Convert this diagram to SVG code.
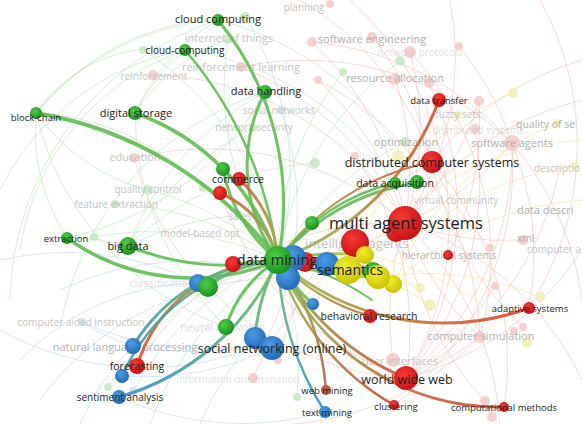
<svg xmlns="http://www.w3.org/2000/svg" width="582" height="424" viewBox="0 0 582 424">
<defs>
<radialGradient id="gG" cx="0.4" cy="0.35" r="0.7"><stop offset="0" stop-color="#4fcb47"/><stop offset="1" stop-color="#14901a"/></radialGradient>
<radialGradient id="gR" cx="0.4" cy="0.35" r="0.7"><stop offset="0" stop-color="#f53b35"/><stop offset="1" stop-color="#c80f12"/></radialGradient>
<radialGradient id="gB" cx="0.4" cy="0.35" r="0.7"><stop offset="0" stop-color="#4b9ce6"/><stop offset="1" stop-color="#1f68b8"/></radialGradient>
<radialGradient id="gY" cx="0.4" cy="0.35" r="0.7"><stop offset="0" stop-color="#f2ee2a"/><stop offset="1" stop-color="#c8c000"/></radialGradient>
<linearGradient id="eR1" gradientUnits="userSpaceOnUse" x1="278" y1="260" x2="439" y2="100"><stop offset="0" stop-color="#8fbf55"/><stop offset="1" stop-color="#e0482c"/></linearGradient>
<linearGradient id="eR2" gradientUnits="userSpaceOnUse" x1="278" y1="260" x2="432" y2="162"><stop offset="0" stop-color="#8fbf55"/><stop offset="1" stop-color="#d8503a"/></linearGradient>
<linearGradient id="eR3" gradientUnits="userSpaceOnUse" x1="278" y1="260" x2="230" y2="185"><stop offset="0" stop-color="#8fbf55"/><stop offset="1" stop-color="#d85a3a"/></linearGradient>
<linearGradient id="eR5" gradientUnits="userSpaceOnUse" x1="278" y1="260" x2="137" y2="366"><stop offset="0" stop-color="#8fbf55"/><stop offset="1" stop-color="#e04a2a"/></linearGradient>
<linearGradient id="eR6" gradientUnits="userSpaceOnUse" x1="278" y1="260" x2="406" y2="378"><stop offset="0" stop-color="#8fbf55"/><stop offset="1" stop-color="#d84a30"/></linearGradient>
<linearGradient id="eR8" gradientUnits="userSpaceOnUse" x1="278" y1="260" x2="504" y2="407"><stop offset="0" stop-color="#8fbf55"/><stop offset="1" stop-color="#e0402a"/></linearGradient>
<linearGradient id="eR9" gradientUnits="userSpaceOnUse" x1="278" y1="260" x2="326" y2="390"><stop offset="0" stop-color="#8fbf55"/><stop offset="1" stop-color="#b0604a"/></linearGradient>
<linearGradient id="eR11" gradientUnits="userSpaceOnUse" x1="278" y1="260" x2="529" y2="308"><stop offset="0" stop-color="#9cbf45"/><stop offset="1" stop-color="#e0402a"/></linearGradient>
<linearGradient id="eB" gradientUnits="userSpaceOnUse" x1="278" y1="260" x2="120" y2="390"><stop offset="0" stop-color="#6cc060"/><stop offset="1" stop-color="#3a8fc8"/></linearGradient>
<linearGradient id="eB2" gradientUnits="userSpaceOnUse" x1="278" y1="260" x2="325" y2="412"><stop offset="0" stop-color="#6cc060"/><stop offset="1" stop-color="#3a8fd0"/></linearGradient>
<linearGradient id="eY" gradientUnits="userSpaceOnUse" x1="278" y1="260" x2="393" y2="284"><stop offset="0" stop-color="#70c050"/><stop offset="1" stop-color="#c8d020"/></linearGradient>
</defs>
<style>
.bp{fill:none;stroke:#f2a8a8;stroke-opacity:.45;stroke-width:1}
.bg{fill:none;stroke:#9ed49a;stroke-opacity:.4;stroke-width:1}
.bb{fill:none;stroke:#a8c8ec;stroke-opacity:.45;stroke-width:1}
.by{fill:none;stroke:#e6e48a;stroke-opacity:.5;stroke-width:1}
.se{fill:none;stroke-linecap:round;stroke-opacity:.9}
.sg{stroke:#5fbd52}
.fp{fill:#f5c4c4;opacity:.8}
.fg{fill:#c6e6c2;opacity:.85}
.fb{fill:#cddff3;opacity:.85}
.fy{fill:#efeeb0;opacity:.85}
.ng{fill:url(#gG)}.nr{fill:url(#gR)}.nb{fill:url(#gB)}.ny{fill:url(#gY)}
text{font-family:"Open Sans","Noto Sans","Liberation Sans",sans-serif;text-anchor:middle}
.fl{fill:#c4c4c4}
.fl2{fill:#b0b0b0}
.lb{fill:#1c1c1c}
</style>

<g id="background-edges">
<path class="bp" d="M312,42 A300,300 0 0,1 405,223"/>
<path class="bp" d="M372,37 A300,300 0 0,1 432,162"/>
<path class="bp" d="M410,52 A300,300 0 0,1 405,223"/>
<path class="bp" d="M459,46 A300,300 0 0,1 512,143"/>
<path class="bp" d="M395,78 A300,300 0 0,1 405,223"/>
<path class="bp" d="M429,83 A300,300 0 0,1 406,378"/>
<path class="bp" d="M318,80 A300,300 0 0,1 405,223"/>
<path class="bp" d="M479,101 A300,300 0 0,1 405,223"/>
<path class="bp" d="M475,129 A300,300 0 0,1 406,378"/>
<path class="bp" d="M512,143 A300,300 0 0,1 405,223"/>
<path class="bp" d="M512,143 A300,300 0 0,1 406,378"/>
<path class="bp" d="M153,75 A300,300 0 0,1 405,223"/>
<path class="bp" d="M241,67 A300,300 0 0,1 405,223"/>
<path class="bp" d="M134,158 A300,300 0 0,1 405,223"/>
<path class="bp" d="M134,158 A300,300 0 0,0 406,378"/>
<path class="bp" d="M480,337 A300,300 0 0,1 405,223"/>
<path class="bp" d="M480,337 A300,300 0 0,1 406,378"/>
<path class="bp" d="M393,360 A300,300 0 0,1 405,223"/>
<path class="bp" d="M523,240 A300,300 0 0,1 405,223"/>
<path class="bp" d="M490,248 A300,300 0 0,1 432,162"/>
<path class="bp" d="M485,401 A300,300 0 0,1 405,223"/>
<path class="bp" d="M253,378 A300,300 0 0,1 405,223"/>
<path class="bp" d="M278,360 A300,300 0 0,1 432,162"/>
<path class="bp" d="M495,286 A300,300 0 0,1 406,378"/>
<path class="bp" d="M523,327 A300,300 0 0,1 432,162"/>
<path class="bp" d="M355,156 A300,300 0 0,1 406,378"/>
<path class="bp" d="M312,42 A300,300 0 0,1 512,143"/>
<path class="bp" d="M410,52 A300,300 0 0,1 480,337"/>
<path class="bp" d="M318,80 A300,300 0 0,1 480,337"/>
<path class="bp" d="M241,67 A300,300 0 0,1 512,143"/>
<path class="bp" d="M560,166 A300,300 0 0,1 406,378"/>
<path class="bp" d="M582,100 A300,300 0 0,0 405,223"/>
<path class="bp" d="M582,60 A300,300 0 0,0 432,162"/>
<path class="bp" d="M450,0 A300,300 0 0,1 405,223"/>
<path class="bp" d="M350,0 A300,300 0 0,1 406,378"/>
<path class="bp" d="M582,250 A300,300 0 0,1 406,378"/>
<path class="bp" d="M582,380 A300,300 0 0,0 405,223"/>
<path class="bp" d="M500,424 A300,300 0 0,0 405,223"/>
<path class="bp" d="M504,407 A300,300 0 0,0 432,162"/>
<path class="bp" d="M529,308 A300,300 0 0,0 512,143"/>
<path class="bp" d="M394,405 A300,300 0 0,0 512,143"/>
<path class="bp" d="M448,255 A300,300 0 0,0 479,101"/>
<path class="bp" d="M406,378 A300,300 0 0,1 220,193"/>
<path class="bp" d="M137,366 A300,300 0 0,1 405,223"/>
<path class="bp" d="M300,0 A300,300 0 0,1 432,162"/>
<path class="bp" d="M240,424 A300,300 0 0,0 480,337"/>
<path class="bp" d="M582,300 A300,300 0 0,0 512,143"/>
<path class="bp" d="M540,0 A300,300 0 0,1 529,308"/>
<path class="bg" d="M36,113 A150,150 0 0,1 185,50"/>
<path class="bg" d="M36,113 A200,200 0 0,0 67,238"/>
<path class="bg" d="M36,113 A260,260 0 0,1 245,17"/>
<path class="bg" d="M36,113 A200,200 0 0,0 148,190"/>
<path class="bg" d="M67,238 A200,200 0 0,1 128,246"/>
<path class="bg" d="M143,50 A300,300 0 0,1 278,260"/>
<path class="bg" d="M245,17 A300,300 0 0,1 278,260"/>
<path class="bg" d="M228,39 A300,300 0 0,0 278,260"/>
<path class="bg" d="M228,39 A200,200 0 0,0 135,113"/>
<path class="bg" d="M343,72 A300,300 0 0,0 278,260"/>
<path class="bg" d="M400,61 A300,300 0 0,0 278,260"/>
<path class="bg" d="M405,142 A300,300 0 0,0 278,260"/>
<path class="bg" d="M315,163 A300,300 0 0,0 128,246"/>
<path class="bg" d="M203,188 A250,250 0 0,0 36,113"/>
<path class="bg" d="M148,190 A300,300 0 0,1 278,260"/>
<path class="bg" d="M115,204 A300,300 0 0,1 278,260"/>
<path class="bg" d="M94,237 A300,300 0 0,1 278,260"/>
<path class="bg" d="M239,215 A300,300 0 0,0 128,246"/>
<path class="bg" d="M253,128 A300,300 0 0,0 128,246"/>
<path class="bg" d="M0,190 A260,260 0 0,1 185,50"/>
<path class="bg" d="M10,300 A300,300 0 0,1 218,20"/>
<path class="bg" d="M108,387 A300,300 0 0,1 278,260"/>
<path class="bg" d="M297,397 A300,300 0 0,0 278,260"/>
<path class="bg" d="M185,50 A200,200 0 0,0 135,113"/>
<path class="bg" d="M218,20 A200,200 0 0,0 135,113"/>
<path class="bg" d="M218,20 A260,260 0 0,0 36,113"/>
<path class="bg" d="M36,113 A300,300 0 0,0 226,327"/>
<path class="bg" d="M67,238 A300,300 0 0,0 265,92"/>
<path class="bg" d="M128,246 A300,300 0 0,1 265,92"/>
<path class="bg" d="M135,113 A300,300 0 0,0 226,327"/>
<path class="bg" d="M20,250 A250,250 0 0,1 185,50"/>
<path class="bg" d="M60,330 A300,300 0 0,1 265,92"/>
<path class="bg" d="M218,20 A300,300 0 0,1 417,183"/>
<path class="bg" d="M185,50 A300,300 0 0,1 395,183"/>
<path class="bb" d="M82,322 A300,300 0 0,0 265,343"/>
<path class="bb" d="M82,322 A200,200 0 0,0 133,346"/>
<path class="bb" d="M133,391 A300,300 0 0,1 278,260"/>
<path class="bb" d="M281,110 A300,300 0 0,1 265,343"/>
<path class="bb" d="M0,330 A300,300 0 0,0 265,343"/>
<path class="bb" d="M40,400 A300,300 0 0,1 288,278"/>
<path class="bb" d="M133,346 A300,300 0 0,0 265,343"/>
<path class="bb" d="M119,397 A300,300 0 0,0 325,412"/>
<path class="bb" d="M122,376 A300,300 0 0,0 272,348"/>
<path class="bb" d="M200,424 A300,300 0 0,1 255,338"/>
<path class="bb" d="M60,290 A300,300 0 0,1 288,278"/>
<path class="bb" d="M0,260 A300,300 0 0,1 198,283"/>
<path class="bb" d="M20,360 A250,250 0 0,1 198,283"/>
<path class="bb" d="M80,424 A250,250 0 0,1 133,346"/>
<path class="bb" d="M150,424 A300,300 0 0,1 293,258"/>
<path class="by" d="M513,93 A300,300 0 0,0 348,270"/>
<path class="by" d="M458,115 A300,300 0 0,0 348,270"/>
<path class="by" d="M557,123 A300,300 0 0,0 393,284"/>
<path class="by" d="M540,297 A300,300 0 0,0 378,277"/>
<path class="by" d="M420,288 A200,200 0 0,0 348,270"/>
<path class="by" d="M430,305 A200,200 0 0,0 348,270"/>
<path class="by" d="M527,343 A300,300 0 0,0 365,255"/>
<path class="by" d="M400,155 A300,300 0 0,0 348,270"/>
<path class="by" d="M582,200 A300,300 0 0,0 393,284"/>
<path class="by" d="M575,166 A300,300 0 0,0 378,277"/>
<path class="by" d="M582,140 A300,300 0 0,0 365,255"/>
</g>

<g id="faint-nodes">
<circle class="fg" cx="245" cy="17" r="5"/>
<circle class="fg" cx="228" cy="39" r="5"/>
<circle class="fg" cx="143" cy="50" r="4"/>
<circle class="fp" cx="153" cy="75" r="5"/>
<circle class="fp" cx="241" cy="67" r="5"/>
<circle class="fb" cx="281" cy="110" r="4"/>
<circle class="fg" cx="253" cy="128" r="4"/>
<circle class="fp" cx="312" cy="42" r="5"/>
<circle class="fp" cx="372" cy="37" r="5"/>
<circle class="fp" cx="410" cy="52" r="6"/>
<circle class="fp" cx="459" cy="46" r="4"/>
<circle class="fg" cx="343" cy="72" r="4"/>
<circle class="fg" cx="400" cy="61" r="5"/>
<circle class="fp" cx="318" cy="80" r="4"/>
<circle class="fp" cx="395" cy="79" r="6"/>
<circle class="fp" cx="429" cy="83" r="5"/>
<circle class="fp" cx="479" cy="101" r="5"/>
<circle class="fy" cx="513" cy="93" r="5"/>
<circle class="fy" cx="458" cy="115" r="4"/>
<circle class="fp" cx="475" cy="129" r="5"/>
<circle class="fy" cx="557" cy="123" r="4"/>
<circle class="fp" cx="512" cy="143" r="8"/>
<circle class="fg" cx="405" cy="142" r="5"/>
<circle class="fy" cx="398" cy="156" r="6"/>
<circle class="fy" cx="575" cy="166" r="4"/>
<circle class="fp" cx="523" cy="240" r="5"/>
<circle class="fp" cx="490" cy="248" r="4"/>
<circle class="fp" cx="134" cy="158" r="5"/>
<circle class="fg" cx="148" cy="190" r="5"/>
<circle class="fg" cx="115" cy="204" r="4"/>
<circle class="fg" cx="94" cy="237" r="4"/>
<circle class="fg" cx="203" cy="188" r="4"/>
<circle class="fg" cx="239" cy="215" r="4"/>
<circle class="fg" cx="315" cy="163" r="5"/>
<circle class="fp" cx="355" cy="156" r="4"/>
<circle class="fb" cx="82" cy="322" r="4"/>
<circle class="fg" cx="108" cy="387" r="4"/>
<circle class="fb" cx="133" cy="391" r="4"/>
<circle class="fp" cx="278" cy="360" r="4"/>
<circle class="fp" cx="253" cy="378" r="5"/>
<circle class="fg" cx="297" cy="397" r="4"/>
<circle class="fy" cx="420" cy="288" r="5"/>
<circle class="fy" cx="430" cy="305" r="6"/>
<circle class="fp" cx="495" cy="286" r="4"/>
<circle class="fy" cx="540" cy="297" r="5"/>
<circle class="fp" cx="523" cy="327" r="4"/>
<circle class="fp" cx="514" cy="331" r="4"/>
<circle class="fy" cx="527" cy="343" r="5"/>
<circle class="fp" cx="480" cy="337" r="6"/>
<circle class="fp" cx="393" cy="360" r="7"/>
<circle class="fp" cx="485" cy="401" r="5"/>
<circle class="fp" cx="492" cy="417" r="5"/>
<circle class="fp" cx="330" cy="4" r="4"/>
</g>

<g id="faint-labels">
<text class="fl" x="304" y="11" font-size="10">planning</text>
<text class="fl" x="229" y="42" font-size="11">internet of things</text>
<text class="fl2" x="372" y="43" font-size="11">software engineering</text>
<text class="fl" x="420" y="56" font-size="10" fill-opacity=".5">network protocols</text>
<text class="fl" x="154" y="80" font-size="10">reinforcement</text>
<text class="fl" x="241" y="71" font-size="11">reinforcement learning</text>
<text class="fl2" x="395" y="82" font-size="11">resource allocation</text>
<text class="fl" x="279" y="114" font-size="10">social networks</text>
<text class="fl" x="254" y="131" font-size="10">network security</text>
<text class="fl" x="458" y="118" font-size="10">fuzzy sets</text>
<text class="fl" x="478" y="134" font-size="10" fill-opacity=".6">distributed systems</text>
<text class="fl2" x="516" y="128" font-size="10.5" style="text-anchor:start">quality of se</text>
<text class="fl2" x="406" y="146" font-size="11">optimization</text>
<text class="fl2" x="512" y="147" font-size="11">software agents</text>
<text class="fl" x="135" y="161" font-size="11">education</text>
<text class="fl" x="534" y="172" font-size="10" style="text-anchor:start">descriptio</text>
<text class="fl" x="148" y="193" font-size="10">quality control</text>
<text class="fl" x="116" y="208" font-size="10">feature extraction</text>
<text class="fl" x="456" y="204" font-size="10">virtual community</text>
<text class="fl2" x="517" y="214" font-size="11" style="text-anchor:start">data descri</text>
<text class="fl" x="240" y="220" font-size="10">sales</text>
<text class="fl" x="200" y="237" font-size="10">model-based opt</text>
<text class="fl2" x="517" y="242" font-size="10" style="text-anchor:start">xml</text>
<text class="fl" x="527" y="253" font-size="10" style="text-anchor:start">computer a</text>
<text class="fl" x="357" y="248" font-size="13">intelligent agents</text>
<text class="fl2" x="449" y="259" font-size="10">hierarchical systems</text>
<text class="fl" x="162" y="287" font-size="11" fill-opacity=".6">classification</text>
<text class="fl" x="81" y="326" font-size="10">computer aided instruction</text>
<text class="fl" x="222" y="331" font-size="11" fill-opacity=".6">neural networks</text>
<text class="fl2" x="481" y="340" font-size="11">computer simulation</text>
<text class="fl2" x="125" y="351" font-size="11">natural language processing</text>
<text class="fl" x="400" y="365" font-size="11">user interfaces</text>
<text class="fl" x="238" y="383" font-size="10" fill-opacity=".5">information dissemination</text>
</g>

<g id="connectors">
<path class="se sg" stroke-width="3" d="M218,20 A290,290 0 0,1 278,260"/>
<path class="se sg" stroke-width="3" d="M265,92 A160,160 0 0,0 278,260"/>
<path class="se sg" stroke-width="2.5" d="M185,50 A400,400 0 0,1 278,260"/>
<path class="se sg" stroke-width="4" d="M36,113 A380,380 0 0,1 278,260"/>
<path class="se sg" stroke-width="3.5" d="M135,113 A230,230 0 0,1 278,260"/>
<path class="se sg" stroke-width="3.5" d="M67,238 A215,215 0 0,0 278,260"/>
<path class="se sg" stroke-width="3" d="M128,246 A260,260 0 0,0 278,260"/>
<path class="se sg" stroke-width="3" d="M223,169 A150,150 0 0,0 278,260"/>
<path class="se sg" stroke-width="3" d="M417,183 A220,220 0 0,0 278,260"/>
<path class="se sg" stroke-width="2.5" d="M395,183 A200,200 0 0,0 278,260"/>
<path class="se sg" stroke-width="3" d="M312,223 L278,260"/>
<path class="se sg" stroke-width="3" d="M226,327 A120,120 0 0,1 278,260"/>
<path class="se sg" stroke-width="3" d="M208,287 A120,120 0 0,1 278,260"/>
<path class="se sg" stroke-width="3" d="M373,272 A300,300 0 0,0 278,260"/>
<path class="se sg" stroke-width="2" d="M372,300 A250,250 0 0,0 278,260"/>
<path class="se" stroke="url(#eR1)" stroke-width="3" d="M439,100 A270,270 0 0,1 278,260"/>
<path class="se" stroke="url(#eR2)" stroke-width="2" d="M432,162 A250,250 0 0,0 278,260"/>
<path class="se" stroke="url(#eR3)" stroke-width="3" d="M239,179 A120,120 0 0,1 278,260"/>
<path class="se" stroke="url(#eR3)" stroke-width="3" d="M220,193 A100,100 0 0,1 278,260"/>
<path class="se" stroke="url(#eR5)" stroke-width="3" d="M137,366 A150,150 0 0,1 278,260"/>
<path class="se" stroke="url(#eR6)" stroke-width="3" d="M406,378 A250,250 0 0,1 278,260"/>
<path class="se" stroke="url(#eR6)" stroke-width="2.5" d="M394,405 A250,250 0 0,1 278,260"/>
<path class="se" stroke="url(#eR8)" stroke-width="3" d="M504,407 A240,240 0 0,1 278,260"/>
<path class="se" stroke="url(#eR9)" stroke-width="2.5" d="M326,390 A250,250 0 0,0 278,260"/>
<path class="se" stroke="url(#eR6)" stroke-width="2.5" d="M370,316 A200,200 0 0,1 278,260"/>
<path class="se" stroke="url(#eR11)" stroke-width="3" d="M529,308 A250,250 0 0,1 278,260"/>
<path class="se" stroke="url(#eR3)" stroke-width="3" d="M233,264 L278,260"/>
<path class="se" stroke="url(#eB2)" stroke-width="2.5" d="M325,412 A300,300 0 0,1 278,260"/>
<path class="se" stroke="url(#eB)" stroke-width="3" d="M119,397 A250,250 0 0,0 278,260"/>
<path class="se" stroke="url(#eB)" stroke-width="2.5" d="M122,376 A200,200 0 0,1 278,260"/>
<path class="se" stroke="url(#eB)" stroke-width="3" d="M133,346 A180,180 0 0,1 278,260"/>
<path class="se" stroke="url(#eB)" stroke-width="3" d="M255,338 A200,200 0 0,1 278,260"/>
<path class="se" stroke="url(#eB)" stroke-width="3" d="M313,304 A150,150 0 0,1 278,260"/>
<path class="se" stroke="url(#eY)" stroke-width="3.5" d="M393,284 A300,300 0 0,0 278,260"/>
<path class="se" stroke="url(#eY)" stroke-width="3" d="M378,277 A300,300 0 0,1 278,260"/>
<path class="se" stroke="url(#eY)" stroke-width="3" d="M365,255 A300,300 0 0,0 278,260"/>
</g>

<g id="node-data-mining-cluster">
<circle class="nr" cx="396" cy="232" r="10"/>
<circle class="nr" cx="355" cy="243" r="14"/>
<circle class="ny" cx="365" cy="255" r="9"/>
<circle class="nb" cx="327" cy="264" r="12"/>
<circle class="nr" cx="305" cy="262" r="10"/>
<circle class="ng" cx="373" cy="272" r="10"/>
<circle class="ny" cx="348" cy="270" r="14"/>
<circle class="ny" cx="393" cy="284" r="9"/>
<circle class="ny" cx="378" cy="277" r="12"/>
<circle class="nb" cx="293" cy="258" r="13"/>
<circle class="nb" cx="288" cy="278" r="12"/>
<circle class="ng" cx="278" cy="260" r="14"/>
<circle class="nr" cx="233" cy="264" r="8"/>
<circle class="nb" cx="198" cy="283" r="9"/>
<circle class="ng" cx="208" cy="287" r="10"/>
<circle class="ng" cx="312" cy="223" r="7"/>
<circle class="nb" cx="313" cy="304" r="6"/>
</g>
<g id="node-multi-agent-systems"><circle class="nr" cx="405" cy="223" r="17"/></g>
<g id="node-cloud-computing"><circle class="ng" cx="218" cy="20" r="6"/></g>
<g id="node-cloud-computing-2"><circle class="ng" cx="185" cy="50" r="6"/></g>
<g id="node-digital-storage"><circle class="ng" cx="135" cy="113" r="7"/></g>
<g id="node-block-chain"><circle class="ng" cx="36" cy="113" r="6"/></g>
<g id="node-data-handling"><circle class="ng" cx="265" cy="92" r="7"/></g>
<g id="node-commerce"><circle class="ng" cx="223" cy="169" r="7"/><circle class="nr" cx="239" cy="179" r="7"/><circle class="nr" cx="220" cy="193" r="7"/></g>
<g id="node-extraction"><circle class="ng" cx="67" cy="238" r="6"/></g>
<g id="node-big-data"><circle class="ng" cx="128" cy="246" r="9"/></g>
<g id="node-data-acquisition"><circle class="ng" cx="395" cy="183" r="6"/><circle class="ng" cx="417" cy="182" r="7"/></g>
<g id="node-data-transfer"><circle class="nr" cx="439" cy="100" r="7"/></g>
<g id="node-distributed-computer-systems"><circle class="nr" cx="432" cy="162" r="11"/></g>
<g id="node-hierarchical-systems"><circle class="nr" cx="448" cy="255" r="5"/></g>
<g id="node-behavioral-research"><circle class="nr" cx="370" cy="316" r="7"/></g>
<g id="node-adaptive-systems"><circle class="nr" cx="529" cy="308" r="6"/></g>
<g id="node-world-wide-web"><circle class="nr" cx="406" cy="378" r="12"/></g>
<g id="node-clustering"><circle class="nr" cx="394" cy="405" r="5"/></g>
<g id="node-computational-methods"><circle class="nr" cx="504" cy="407" r="5"/></g>
<g id="node-web-mining"><circle cx="326" cy="390" r="5" fill="#c25a42"/></g>
<g id="node-text-mining"><circle class="nb" cx="325" cy="412" r="6"/></g>
<g id="node-social-networking"><circle class="nb" cx="255" cy="338" r="11"/><circle class="nb" cx="272" cy="348" r="12"/></g>
<g id="node-misc-green"><circle class="ng" cx="226" cy="327" r="8"/></g>
<g id="node-natural-language-processing"><circle class="nb" cx="133" cy="346" r="8"/></g>
<g id="node-forecasting"><circle class="nr" cx="137" cy="366" r="8"/></g>
<g id="node-blue-2"><circle class="nb" cx="122" cy="376" r="7"/></g>
<g id="node-sentiment-analysis"><circle class="nb" cx="119" cy="397" r="7"/></g>

<g id="labels">
<text class="lb" x="218" y="23" font-size="11">cloud computing</text>
<text class="lb" x="185" y="54" font-size="10">cloud-computing</text>
<text class="lb" x="136" y="117" font-size="11">digital storage</text>
<text class="lb" x="36" y="121" font-size="9.5">block-chain</text>
<text class="lb" x="266" y="95" font-size="11">data handling</text>
<text class="lb" x="238" y="183" font-size="10.5">commerce</text>
<text class="lb" x="66" y="242" font-size="9.5">extraction</text>
<text class="lb" x="128" y="250" font-size="11">big data</text>
<text class="lb" x="395" y="187" font-size="10.5">data acquisition</text>
<text class="lb" x="439" y="104" font-size="9.5">data transfer</text>
<text class="lb" x="432" y="167" font-size="12.5">distributed computer systems</text>
<text class="lb" x="406" y="229" font-size="16.5">multi agent systems</text>
<text class="lb" x="277" y="265" font-size="14.5">data mining</text>
<text class="lb" x="350" y="275" font-size="14">semantics</text>
<text class="lb" x="369" y="320" font-size="10.5">behavioral research</text>
<text class="lb" x="530" y="312" font-size="9.5">adaptive systems</text>
<text class="lb" x="272" y="353" font-size="12.5">social networking (online)</text>
<text class="lb" x="137" y="370" font-size="10.5">forecasting</text>
<text class="lb" x="407" y="384" font-size="12.5">world wide web</text>
<text class="lb" x="327" y="394" font-size="9.5">web mining</text>
<text class="lb" x="120" y="401" font-size="10">sentiment analysis</text>
<text class="lb" x="396" y="410" font-size="9.5">clustering</text>
<text class="lb" x="504" y="411" font-size="9.5">computational methods</text>
<text class="lb" x="327" y="416" font-size="9.5">text mining</text>
</g>
</svg>
